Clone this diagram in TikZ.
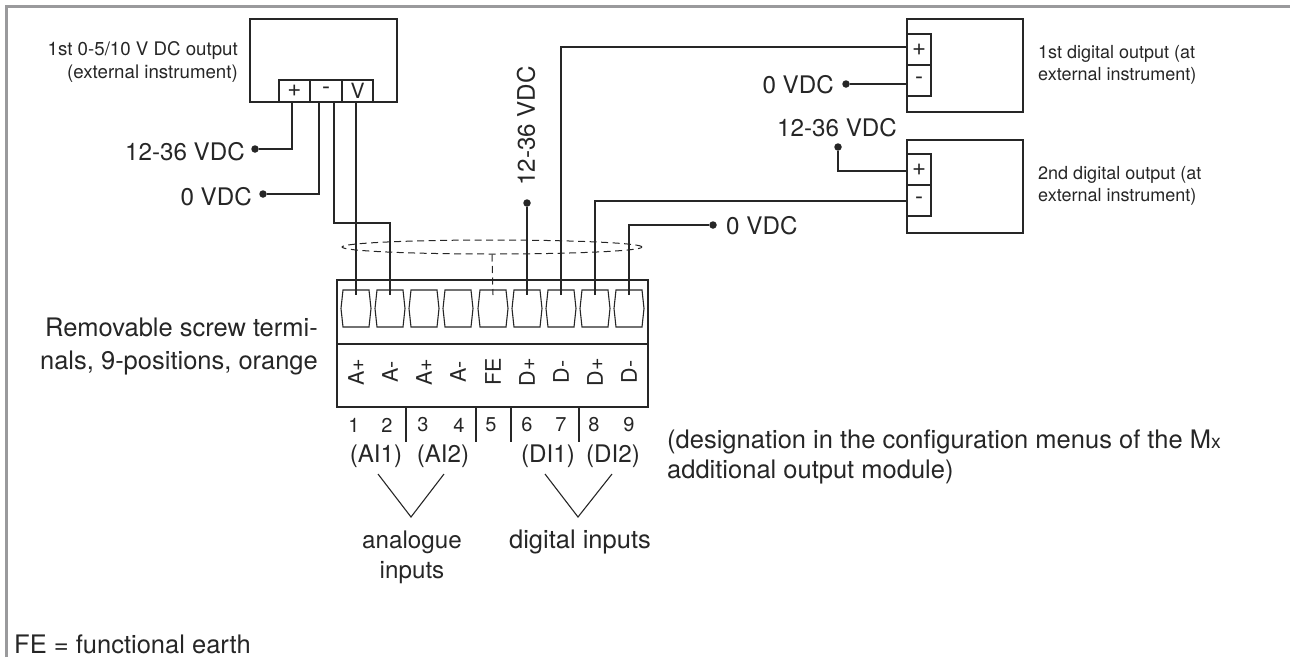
\documentclass[tikz,border=0pt]{standalone}
\usepackage{fontspec}
\setmainfont{TeX Gyre Heros}
\usepackage{tikz}
\usetikzlibrary{shapes.geometric}
\usetikzlibrary{positioning}
\definecolor{inkgray}{HTML}{262626}
\definecolor{framegray}{HTML}{9A9A9C}
\begin{document}
\begin{tikzpicture}[x=1pt,y=-1pt]
 \useasboundingbox (0,0) rectangle (1290,657);

\tikzstyle{wire}=[line width=1.1pt,draw=inkgray]
\tikzstyle{screendash}=[line width=1pt,draw=inkgray,dash pattern=on 7pt off 4.5pt]
\tikzstyle{box}=[draw=inkgray,line width=1.1pt,inner sep=0pt]
\tikzstyle{cell}=[box,text=inkgray,font=\fontsize{24}{24}\selectfont]
\tikzstyle{dot}=[circle,fill=inkgray,inner sep=0pt,minimum size=7.5pt]
\tikzstyle{lab}=[inner sep=0pt,text=inkgray,font=\fontsize{25.5}{30}\selectfont]
\tikzstyle{volt}=[inner sep=0pt,text=inkgray,font=\fontsize{24.2}{30}\selectfont]
\tikzstyle{small}=[inner sep=0pt,text=inkgray,font=\fontsize{18.7}{23}\selectfont]
\tikzstyle{side}=[inner sep=0pt,text=inkgray,font=\fontsize{18}{22}\selectfont]
\tikzstyle{pinlab}=[inner sep=0pt,text=inkgray,font=\fontsize{21.5}{20}\selectfont]
\tikzstyle{numlab}=[inner sep=0pt,text=inkgray,font=\fontsize{20}{20}\selectfont]

   %frame
   \draw[framegray,line width=3pt] (6,657) -- (6,6) -- (1290,6);

   %external instruments
   \node (src) at (323.5,60.5) [box,minimum width=147pt,minimum height=83pt] {};
   \node (src_plus) at (294.5,91) [cell,minimum width=31pt,minimum height=22pt] {+};
   \node (src_minus) at (326,91) [cell,minimum width=32pt,minimum height=22pt] {-};
   \node (src_v) at (357.5,91) [cell,font=\fontsize{21}{21}\selectfont,minimum width=31pt,minimum height=22pt] {V};
   \node (src_label) at (238,62) [small,anchor=east,align=right] {1st 0-5/10 V DC output\\(external instrument)};

   \node (dig1) at (965,65.5) [box,minimum width=116pt,minimum height=93pt] {};
   \node (dig1_plus) at (919,49.5) [cell,minimum width=24pt,minimum height=31pt] {+};
   \node (dig1_minus) at (919,80.5) [cell,minimum width=24pt,minimum height=31pt] {-};
   \node (dig1_label) at (1038,65) [side,anchor=west,align=left] {1st digital output (at\\external instrument)};

   \node (dig2) at (965,186.5) [box,minimum width=116pt,minimum height=93pt] {};
   \node (dig2_plus) at (919,169.5) [cell,minimum width=24pt,minimum height=31pt] {+};
   \node (dig2_minus) at (919,200.5) [cell,minimum width=24pt,minimum height=31pt] {-};
   \node (dig2_label) at (1038,186) [side,anchor=west,align=left] {2nd digital output (at\\external instrument)};

   %terminal block
   \node (block) at (492.5,343.5) [box,minimum width=311pt,minimum height=127pt] {};
   \draw[wire] (block.west |- 0,344) -- (block.east |- 0,344);
   \foreach \i/\x/\t in {1/356/A+,2/390/A-,3/424/A+,4/458/A-,5/493/FE,6/527/D+,7/561/D-,8/595/D+,9/629/D-}{
     \draw[wire] (\x-13,290) -- (\x+13,290) -- (\x+15,308.5) -- (\x+13,327) -- (\x-13,327) -- (\x-15,308.5) -- cycle;
     \coordinate (screw\i) at (\x,295);
     \node (pin\i) at (\x,372) [pinlab,rotate=90] {\t};
   }
   \foreach \i/\x in {1/354,2/387,3/423,4/459,5/491,6/527,7/561,8/594,9/629}
     \node (num\i) at (\x,425) [numlab] {\i};
   \foreach \i/\x in {1/406,2/476,3/511,4/579}{
     \coordinate (tick\i) at (\x,407);
     \draw[wire] (tick\i) -- ++(0,35);
   }

   %cable screen
   \node (screen) at (492,247) [ellipse,screendash,inner sep=0pt,minimum width=300pt,minimum height=14pt] {};
   \draw[screendash] (screen.south) -- (screw5);

   %voltage ends
   \node (dot_a) at (255,149) [dot] {};
   \node (dot_b) at (263,194) [dot] {};
   \node (dot_c) at (527,203) [dot] {};
   \node (dot_d) at (846,84) [dot] {};
   \node (dot_e) at (838,147) [dot] {};
   \node (dot_f) at (713,225) [dot] {};
   \node (volt_a) at (245,152) [volt,anchor=east] {12-36 VDC};
   \node (volt_b) at (252,197) [volt,anchor=east] {0 VDC};
   \node (volt_c) at (526,126) [volt,rotate=90] {12-36 VDC};
   \node (volt_d) at (834,85) [volt,anchor=east] {0 VDC};
   \node (volt_e) at (837,128) [volt] {12-36 VDC};
   \node (volt_f) at (726,226) [volt,anchor=west] {0 VDC};

   %wires
   \draw[wire] (292,102) |- (dot_a);
   \draw[wire] (319,102) |- (dot_b);
   \draw[wire] (334,102) -- (334,223) -| (screw2);
   \draw[wire] (356,102) -- (screw1);
   \draw[wire] (dot_c) -- (screw6);
   \draw[wire] (screw7) |- (dig1_plus.west |- 0,47);
   \draw[wire] (dot_d) -- (dig1_minus.west |- dot_d);
   \draw[wire] (dot_e) |- (dig2_plus.west |- 0,171);
   \draw[wire] (screw8) |- (dig2_minus.west |- 0,201);
   \draw[wire] (screw9) |- (dot_f);

   %groups
   \node (ai1) at (376,456) [volt] {(AI1)};
   \node (ai2) at (443,456) [volt] {(AI2)};
   \node (di1) at (548,456) [volt] {(DI1)};
   \node (di2) at (613,456) [volt] {(DI2)};
   \coordinate (ai_l) at (378,474);
   \coordinate (ai_r) at (444,474);
   \coordinate (di_l) at (545,474);
   \coordinate (di_r) at (612,474);
   \coordinate (apex_a) at (411,517);
   \coordinate (apex_d) at (578,517);
   \draw[wire] (ai_l) -- (apex_a) -- (ai_r);
   \draw[wire] (di_l) -- (apex_d) -- (di_r);
   \node (analogue) at (412,557) [volt,align=center] {analogue\\inputs};
   \node (digital) at (580,542) [lab] {digital inputs};

   %notes
   \node (removable) at (318,346) [lab,anchor=east,align=right] {Removable screw termi-\\[3pt]nals, 9-positions, orange};
   \node (designation) at (667,457) [lab,anchor=west,align=left] {(designation in the configuration menus of the M{\fontsize{19.5}{19.5}\selectfont x}\\additional output module)};
   \node (fe_note) at (14,644) [lab,anchor=west] {FE = functional earth};

\end{tikzpicture}
\end{document}
